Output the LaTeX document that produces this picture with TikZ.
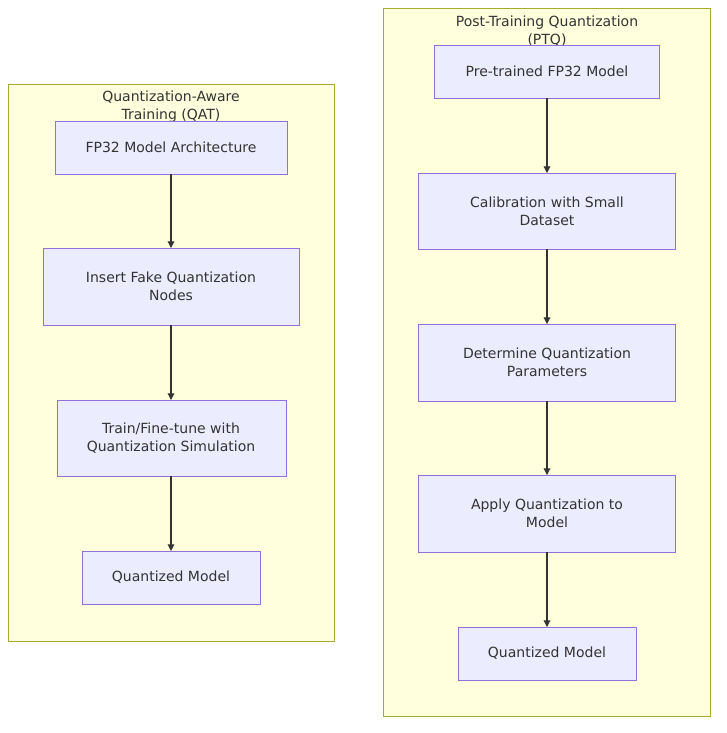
\documentclass[tikz,border=0pt]{standalone}
\usepackage{fontspec}
\setmainfont{DejaVu Sans}
\usetikzlibrary{arrows.meta}
\definecolor{nodefill}{HTML}{ECECFF}
\definecolor{nodeline}{HTML}{9370DB}
\definecolor{clfill}{HTML}{FFFFDE}
\definecolor{clline}{HTML}{AAAA33}
\definecolor{txt}{HTML}{333333}
\begin{document}
\begin{tikzpicture}[x=0.75pt,y=-0.75pt,
  cl/.style={draw=clline,fill=clfill,line width=0.6pt},
  box/.style={draw=nodeline,fill=nodefill,line width=0.6pt},
  lab/.style={text=txt,font=\fontsize{10.5}{13.5}\selectfont,align=center},
  arr/.style={draw=txt,line width=0.8pt,-{Triangle[length=5pt,width=5pt]}}]
\useasboundingbox (0,0) rectangle (726,733);
\fill[white] (0,0) rectangle (726,733);
% clusters
\draw[cl] (8,84) rectangle (334,641);
\node[lab] (t1) at (171,107) {Quantization-Aware\\Training (QAT)};
\draw[cl] (383,8) rectangle (710,716);
\node[lab] (t2) at (547,31) {Post-Training Quantization\\(PTQ)};
% left nodes
\draw[box] (55,121) rectangle (287,174); \node[lab] (a1) at (171,147.5) {FP32 Model Architecture};
\draw[box] (43,248) rectangle (299,325); \node[lab] (a2) at (171,286.5) {Insert Fake Quantization\\Nodes};
\draw[box] (57,400) rectangle (286,476); \node[lab] (a3) at (171,438) {Train/Fine-tune with\\Quantization Simulation};
\draw[box] (82,551) rectangle (260,604); \node[lab] (a4) at (171,577.5) {Quantized Model};
\coordinate (a1b) at (171,174); \coordinate (a2t) at (171,248);
\coordinate (a2b) at (171,325); \coordinate (a3t) at (171,400);
\coordinate (a3b) at (171,476); \coordinate (a4t) at (171,551);
\draw[arr] (a1b) -- (a2t); \draw[arr] (a2b) -- (a3t); \draw[arr] (a3b) -- (a4t);
% right nodes
\draw[box] (434,45) rectangle (659,98); \node[lab] (b1) at (547,71.5) {Pre-trained FP32 Model};
\draw[box] (418,173) rectangle (675,249); \node[lab] (b2) at (547,211) {Calibration with Small\\Dataset};
\draw[box] (418,324) rectangle (675,401); \node[lab] (b3) at (547,362.5) {Determine Quantization\\Parameters};
\draw[box] (418,475) rectangle (675,552); \node[lab] (b4) at (547,513.5) {Apply Quantization to\\Model};
\draw[box] (458,627) rectangle (636,680); \node[lab] (b5) at (547,653.5) {Quantized Model};
\coordinate (b1b) at (547,98); \coordinate (b2t) at (547,173);
\coordinate (b2b) at (547,249); \coordinate (b3t) at (547,324);
\coordinate (b3b) at (547,401); \coordinate (b4t) at (547,475);
\coordinate (b4b) at (547,552); \coordinate (b5t) at (547,627);
\draw[arr] (b1b) -- (b2t); \draw[arr] (b2b) -- (b3t); \draw[arr] (b3b) -- (b4t); \draw[arr] (b4b) -- (b5t);
\end{tikzpicture}
\end{document}
